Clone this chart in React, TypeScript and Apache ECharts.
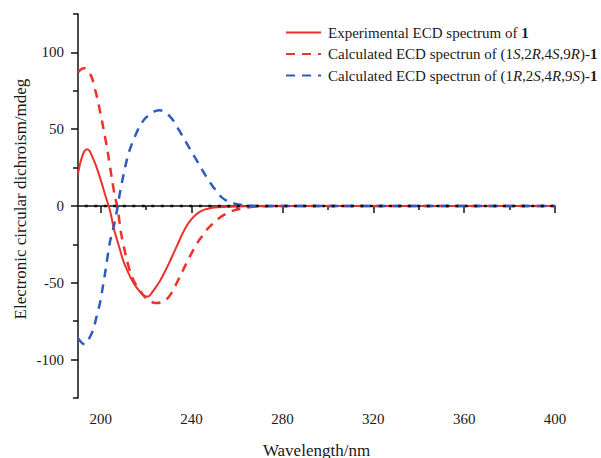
import React, { useEffect, useRef } from "react";
import * as echarts from "echarts";

const xMajorTicks = [200, 240, 280, 320, 360, 400];
const xMinorTicks = [220, 260, 300, 340, 380];
const yMajorTicks = [-100, -50, 0, 50, 100];
const yMinorTicks = [-125, -75, -25, 25, 75, 125];

const experimental: [number, number][] = [
  [190, 21], [191, 28], [192, 33], [193, 36], [194, 37], [195, 36], [196, 33],
  [198, 26], [200, 17], [202, 7], [204, -2.5], [206, -16], [208, -26], [210, -36],
  [212, -43], [214, -49], [216, -53.5], [218, -57], [220, -59], [221, -59],
  [222, -57.5], [224, -53.5], [226, -49], [228, -43.5], [230, -37.5], [232, -31],
  [234, -24.5], [236, -18], [238, -12.5], [240, -8.5], [242, -5.5], [244, -3.5],
  [246, -2.2], [248, -1.5], [250, -1], [254, -0.6], [260, -0.3], [270, -0.1],
  [300, 0], [350, 0], [400, 0],
];

const calcSRSR: [number, number][] = [
  [190, 87], [191, 88.5], [192, 89.5], [193, 89.6], [194, 88.5], [196, 84],
  [198, 73], [199, 66.7], [201, 52], [203, 36], [205, 17], [206.3, 6], [207.5, -2],
  [209, -18], [211, -32], [213, -43], [215, -50], [217, -54.5], [219, -58.5],
  [221, -61.5], [223, -62.8], [225, -63.2], [227, -62.5], [229, -60.8], [231, -57],
  [233, -51.5], [235, -45.5], [237, -39.5], [239, -33.5], [241, -28], [243, -23],
  [245, -19], [247, -15], [249, -12], [251, -9.3], [253, -7], [255, -5.2],
  [257, -3.8], [259, -2.7], [261, -2], [263, -1.4], [266, -0.7], [270, -0.2],
  [280, 0], [320, 0], [400, 0],
];

const calcRSRS: [number, number][] = [
  [190, -86], [191, -88], [192, -89.5], [193, -90], [194, -88.5], [195, -86],
  [196.7, -80.5], [198, -73], [199.7, -63], [201, -52], [202, -43], [204, -24],
  [206, -11.5], [207.5, 0], [208.5, 9], [210, 20], [211.5, 30], [213, 37.5],
  [215, 45], [217, 51.5], [219.5, 57], [222, 60], [224, 61.8], [226, 62.3],
  [228, 61.5], [230, 59], [232, 55.5], [234, 50.6], [236, 45.5], [238, 40.4],
  [240, 35.3], [242, 30.4], [244, 25.3], [246, 20.2], [248, 15.5], [250, 11.5],
  [252, 7.5], [254, 4.8], [256, 3], [258, 1.9], [260, 1.2], [263, 0.5],
  [267, 0.15], [275, 0], [320, 0], [400, 0],
];

const zeroLine: [number, number][] = [
  [193, 0], [400, 0],
];

const RED = "#f0302a";
const BLUE = "#2e5cbe";
const FONT = "'Liberation Serif', 'Times New Roman', serif";
const TXT = "#1a1a1a";

const legendLabels: Record<string, string> = {
  exp: "Experimental ECD spectrum of {b|1}",
  srsr: "Calculated ECD spectrun of (1{i|S},2{i|R},4{i|S},9{i|R})-{b|1}",
  rsrs: "Calculated ECD spectrun of (1{i|R},2{i|S},4{i|R},9{i|S})-{b|1}",
};

export default function App() {
  const ref = useRef<HTMLDivElement>(null);
  useEffect(() => {
    if (!ref.current) return;
    const chart = echarts.init(ref.current, undefined, { renderer: "svg" });
    const axisLine = { show: true, lineStyle: { color: "#111", width: 1.5 } };
    const tickStyle = { color: "#111", width: 1.5 };
    chart.setOption({
      animation: false,
      backgroundColor: "#fff",
      textStyle: { fontFamily: FONT },
      grid: { left: 78, right: 46, top: 14, bottom: 60, outerBoundsMode: "none", containLabel: false },
      legend: {
        orient: "vertical",
        left: 280,
        top: 19,
        padding: 5,
        itemWidth: 35,
        itemHeight: 14,
        itemGap: 4.5,
        data: ["exp", "srsr", "rsrs"],
        formatter: (name: string) => legendLabels[name],
        itemStyle: { opacity: 0, borderWidth: 0 },
        textStyle: {
          fontFamily: FONT,
          fontSize: 15,
          lineHeight: 17,
          color: TXT,
          padding: [0, 0, 0, 2],
          rich: {
            b: { fontFamily: FONT, fontSize: 15, lineHeight: 17, fontWeight: "bold", color: TXT },
            i: { fontFamily: FONT, fontSize: 15, lineHeight: 17, fontStyle: "italic", color: TXT },
          },
        },
      },
      xAxis: [
        {
          type: "value",
          min: 190,
          max: 400,
          name: "Wavelength/nm",
          nameLocation: "middle",
          nameGap: 44,
          nameTextStyle: { fontFamily: FONT, fontSize: 17, color: TXT },
          axisLine,
          axisTick: { show: true, inside: false, length: 7, customValues: xMajorTicks, lineStyle: tickStyle },
          axisLabel: { customValues: xMajorTicks, margin: 13, fontFamily: FONT, fontSize: 15, color: TXT },
          splitLine: { show: false },
        },
        {
          type: "value",
          min: 190,
          max: 400,
          position: "bottom",
          axisLine: { show: false },
          axisTick: { show: true, inside: false, length: 4, customValues: xMinorTicks, lineStyle: tickStyle },
          axisLabel: { show: false },
          splitLine: { show: false },
        },
      ],
      yAxis: [
        {
          type: "value",
          min: -125,
          max: 125,
          axisLine,
          axisTick: { show: true, inside: false, length: 7, customValues: yMajorTicks, lineStyle: tickStyle },
          axisLabel: { customValues: yMajorTicks, margin: 14, fontFamily: FONT, fontSize: 15, color: TXT },
          splitLine: { show: false },
        },
        {
          type: "value",
          min: -125,
          max: 125,
          position: "left",
          axisLine: { show: false },
          axisTick: { show: true, inside: false, length: 5, customValues: yMinorTicks, lineStyle: tickStyle },
          axisLabel: { show: false },
          splitLine: { show: false },
        },
      ],
      graphic: [
        {
          type: "text",
          x: 20,
          y: 199,
          rotation: Math.PI / 2,
          style: {
            text: "Electronic circular dichroism/mdeg",
            fontFamily: FONT,
            fontSize: 17,
            fill: TXT,
            align: "center",
            verticalAlign: "middle",
          },
        },
      ],
      series: [
        {
          name: "exp",
          type: "line",
          data: experimental,
          showSymbol: false,
          symbol: "none",
          smooth: 0.3,
          lineStyle: { color: RED, width: 2 },
          itemStyle: { color: RED },
        },
        {
          name: "srsr",
          type: "line",
          data: calcSRSR,
          showSymbol: false,
          symbol: "none",
          smooth: 0.3,
          lineStyle: { color: RED, width: 2.5, type: [9, 7] },
          itemStyle: { color: RED },
        },
        {
          name: "rsrs",
          type: "line",
          data: calcRSRS,
          showSymbol: false,
          symbol: "none",
          smooth: 0.3,
          lineStyle: { color: BLUE, width: 2.5, type: [9, 7] },
          itemStyle: { color: BLUE },
        },
        {
          name: "zero",
          type: "line",
          data: zeroLine,
          showSymbol: false,
          symbol: "none",
          lineStyle: { color: "#111", width: 2.5, type: [3, 6.5] },
          silent: true,
        },
      ],
    });
    return () => chart.dispose();
  }, []);
  return <div ref={ref} style={{ width: 601, height: 458, position: "absolute", left: 0, top: 0 }} />;
}
